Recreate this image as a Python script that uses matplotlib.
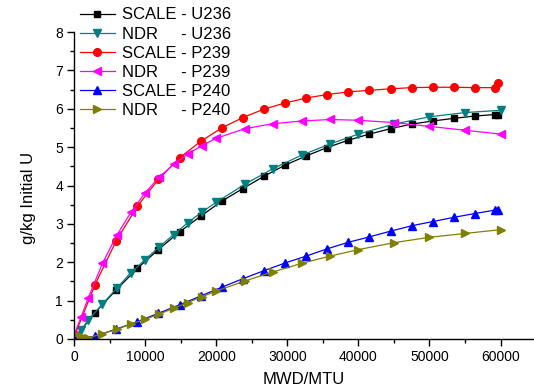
import matplotlib
matplotlib.use("Agg")
import matplotlib.pyplot as plt
from matplotlib.ticker import MultipleLocator

plt.rcParams['font.family'] = ['Liberation Sans', 'DejaVu Sans']

# SCALE burnup steps (MWD/MTU)
scale_x = [0, 2970, 5940, 8910, 11870, 14840, 17810, 20780, 23740, 26710, 29680,
           32650, 35610, 38580, 41550, 44520, 47480, 50450, 53420, 56380, 59250, 59620]
scale_u236 = [0.0, 0.69, 1.28, 1.84, 2.33, 2.79, 3.20, 3.59, 3.92, 4.24, 4.53,
              4.77, 4.99, 5.18, 5.34, 5.48, 5.60, 5.68, 5.75, 5.81, 5.85, 5.85]
scale_p239 = [0.05, 1.42, 2.56, 3.46, 4.16, 4.72, 5.15, 5.50, 5.77, 5.99, 6.15,
              6.28, 6.37, 6.44, 6.48, 6.52, 6.55, 6.56, 6.56, 6.55, 6.55, 6.66]
scale_p240 = [0.0, 0.07, 0.26, 0.45, 0.67, 0.89, 1.12, 1.35, 1.57, 1.78, 1.98,
              2.16, 2.35, 2.52, 2.66, 2.81, 2.95, 3.06, 3.17, 3.27, 3.36, 3.36]

# NDR burnup steps (MWD/MTU)
ndr_x = [0, 1000, 2000, 4000, 6000, 8000, 10000, 12000, 14000, 16000, 18000,
         20000, 24000, 28000, 32000, 36000, 40000, 45000, 50000, 55000, 60000]
ndr_u236 = [0.0, 0.23, 0.49, 0.91, 1.32, 1.73, 2.07, 2.40, 2.72, 3.03, 3.31,
            3.56, 4.03, 4.44, 4.79, 5.08, 5.34, 5.60, 5.79, 5.90, 5.96]
ndr_p239 = [0.10, 0.57, 1.07, 1.97, 2.70, 3.30, 3.81, 4.22, 4.55, 4.82, 5.04,
            5.23, 5.48, 5.61, 5.68, 5.72, 5.70, 5.64, 5.54, 5.44, 5.34]
ndr_p240 = [0.12, 0.09, 0.03, 0.14, 0.25, 0.39, 0.51, 0.65, 0.80, 0.95, 1.10,
            1.25, 1.51, 1.75, 1.97, 2.16, 2.33, 2.51, 2.65, 2.75, 2.85]

labels = ["SCALE - U236", "NDR     - U236", "SCALE - P239",
          "NDR     - P239", "SCALE - P240", "NDR     - P240"]

fig = plt.figure(figsize=(5.34, 3.91), dpi=100)
ax = fig.add_axes([74/534, 52/391, 460/534, 307/391])

lw = 0.9
ms = 5.5
ax.plot(scale_x, scale_u236, color='black', marker='s', lw=lw, ms=ms-0.5, label=labels[0])
ax.plot(ndr_x, ndr_u236, color='#008080', marker='v', lw=lw, ms=ms+0.5, label=labels[1])
ax.plot(scale_x, scale_p239, color='#ff0000', marker='o', lw=lw, ms=ms, label=labels[2])
ax.plot(ndr_x, ndr_p239, color='#ff00ff', marker='<', lw=lw, ms=ms+0.5, label=labels[3])
ax.plot(scale_x, scale_p240, color='#0000ff', marker='^', lw=lw, ms=ms+0.5, label=labels[4])
ax.plot(ndr_x, ndr_p240, color='#808000', marker='>', lw=lw, ms=ms+0.5, label=labels[5])

ax.set_xlim(0, 64700)
ax.set_ylim(0, 8)
ax.xaxis.set_major_locator(MultipleLocator(10000))
ax.xaxis.set_minor_locator(MultipleLocator(5000))
ax.yaxis.set_major_locator(MultipleLocator(1))
ax.yaxis.set_minor_locator(MultipleLocator(0.5))

for s in ['top', 'right']:
    ax.spines[s].set_visible(False)
for s in ['left', 'bottom']:
    ax.spines[s].set_linewidth(1.0)

ax.tick_params(which='major', direction='out', length=5, width=1, labelsize=10, pad=3)
ax.tick_params(which='minor', direction='out', length=3, width=1)

ax.set_xlabel("MWD/MTU", fontsize=12, labelpad=6)
ax.set_ylabel("g/kg Initial U", fontsize=12)
ax.yaxis.set_label_coords(-0.083, 0.46)

leg = ax.legend(loc='upper left', bbox_to_anchor=(0.012, 1.08), frameon=False,
                fontsize=12, handlelength=2.15, handletextpad=0.42,
                labelspacing=0.25, borderpad=0, borderaxespad=0)

fig.savefig("out.png", dpi=100)
